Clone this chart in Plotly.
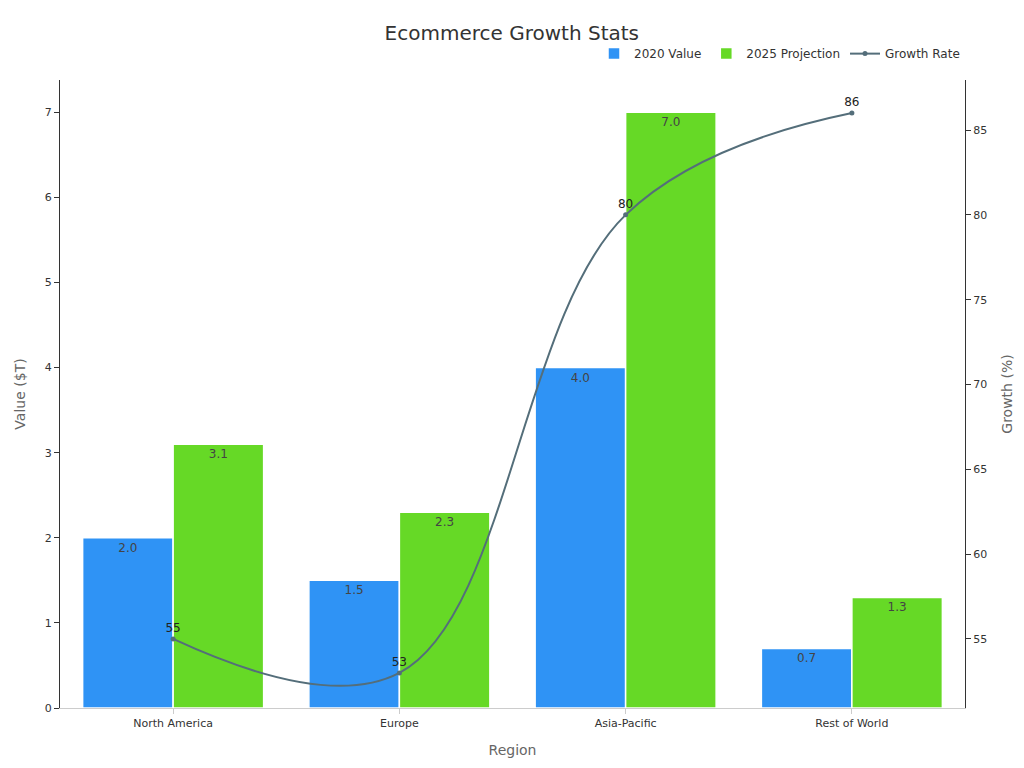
import plotly.graph_objects as go

# data
regions = ["North America", "Europe", "Asia-Pacific", "Rest of World"]
value_2020 = [2.0, 1.5, 4.0, 0.7]
proj_2025 = [3.1, 2.3, 7.0, 1.3]
growth = [55, 53, 80, 86]

fig = go.Figure()
fig.add_trace(go.Bar(x=regions, y=value_2020, name="2020 Value",
                     marker=dict(color="#2f93f5", line=dict(color="white", width=1.5)),
                     text=[f"{v:.1f}" for v in value_2020], textposition="inside",
                     insidetextanchor="end", textfont=dict(color="#444", size=12)))
fig.add_trace(go.Bar(x=regions, y=proj_2025, name="2025 Projection",
                     marker=dict(color="#66d926", line=dict(color="white", width=1.5)),
                     text=[f"{v:.1f}" for v in proj_2025], textposition="inside",
                     insidetextanchor="end", textfont=dict(color="#444", size=12)))
fig.add_trace(go.Scatter(x=regions, y=growth, name="Growth Rate", yaxis="y2",
                         mode="lines+markers+text", text=[str(g) for g in growth],
                         textposition="top center", textfont=dict(color="#222", size=12),
                         line=dict(color="#546e7a", width=2, shape="spline", smoothing=1.1),
                         marker=dict(size=5, color="#546e7a")))

# the page adds an 8px body margin, so margins are set 8px smaller on top/left
fig.update_layout(
    width=1024, height=768,
    font=dict(family="DejaVu Sans", color="#333", size=11),
    title=dict(text="Ecommerce Growth Stats", x=0.492, xanchor="center",
               y=1 - 25 / 768, yanchor="middle", font=dict(size=20)),
    plot_bgcolor="white", paper_bgcolor="white",
    barmode="group", bargap=0.2, bargroupgap=0,
    margin=dict(l=52, r=67, t=72, b=68),
    legend=dict(orientation="h", x=1, xanchor="right", y=1.042, yanchor="middle",
                font=dict(size=12)),
    xaxis=dict(title=dict(text="Region", font=dict(size=14, color="#666")),
               showline=True, linecolor="#ccc", ticks="outside", tickcolor="#ccc"),
    yaxis=dict(title=dict(text="Value ($T)", font=dict(size=14, color="#666")),
               range=[0, 7.38], dtick=1, showgrid=False, showline=True,
               linecolor="#333", ticks="outside", tickcolor="#333", zeroline=False),
    yaxis2=dict(title=dict(text="Growth (%)", font=dict(size=14, color="#666")),
                overlaying="y", side="right", range=[50.93, 87.95], dtick=5,
                showgrid=False, showline=True, linecolor="#333", ticks="outside",
                tickcolor="#333", zeroline=False),
)

fig.write_html("out.html")
